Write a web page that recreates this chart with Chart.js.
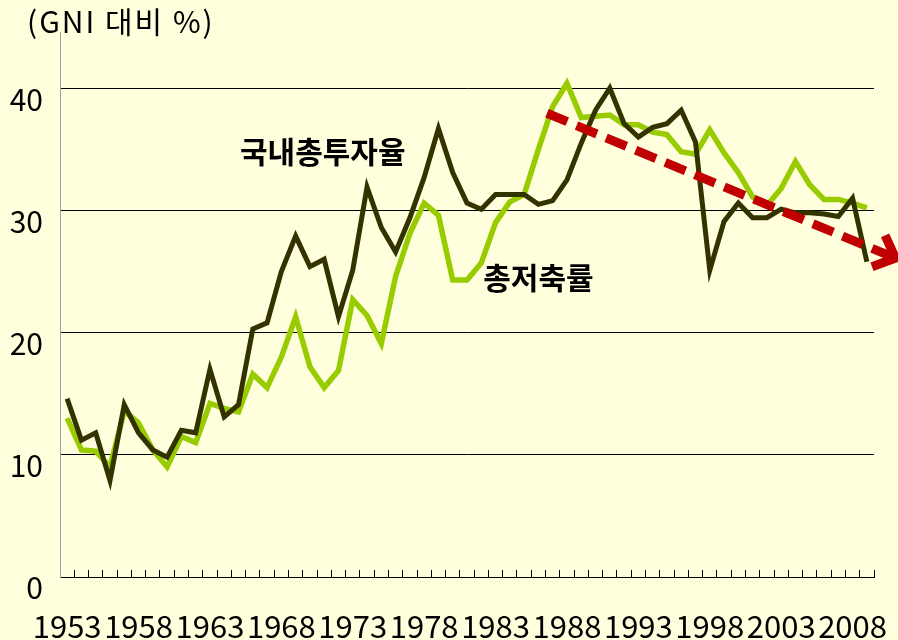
<!DOCTYPE html>
<html>
<head>
<meta charset="utf-8">
<script src="https://cdn.jsdelivr.net/npm/chart.js@4.4.1/dist/chart.umd.min.js"></script>
<style>
html, body { margin: 0; padding: 0; background: #FFFFDD; }
#wrap { width: 898px; height: 640px; }
</style>
</head>
<body>
<div id="wrap"><canvas id="myChart" width="898" height="640"></canvas></div>
<script>
var years = ['1953','1954','1955','1956','1957','1958','1959','1960','1961','1962',
    '1963','1964','1965','1966','1967','1968','1969','1970','1971','1972',
    '1973','1974','1975','1976','1977','1978','1979','1980','1981','1982',
    '1983','1984','1985','1986','1987','1988','1989','1990','1991','1992',
    '1993','1994','1995','1996','1997','1998','1999','2000','2001','2002',
    '2003','2004','2005','2006','2007','2008','2009'];

// 국내총투자율
var investment = [14.6, 11.2, 11.8, 7.9, 14.1, 11.8, 10.4, 9.8, 12.0, 11.8,
    17.0, 13.1, 14.1, 20.3, 20.8, 25.0, 27.9, 25.4, 26.0, 21.3,
    25.1, 31.9, 28.6, 26.6, 29.4, 32.7, 36.7, 33.1, 30.6, 30.1,
    31.3, 31.3, 31.3, 30.5, 30.8, 32.5, 35.5, 38.2, 40.0, 37.1,
    36.0, 36.8, 37.1, 38.2, 35.6, 25.1, 29.1, 30.6, 29.4, 29.4,
    30.1, 29.8, 29.8, 29.7, 29.5, 31.0, 25.8];

// 총저축률
var saving = [13.0, 10.4, 10.3, 9.0, 13.6, 12.6, 10.4, 9.0, 11.5, 11.0,
    14.2, 13.8, 13.5, 16.6, 15.5, 18.0, 21.3, 17.2, 15.5, 16.9,
    22.7, 21.4, 19.1, 24.6, 28.1, 30.6, 29.6, 24.3, 24.3, 25.7,
    29.0, 30.7, 31.3, 35.0, 38.5, 40.4, 37.6, 37.7, 37.8, 37.0,
    37.0, 36.4, 36.2, 34.8, 34.6, 36.6, 34.7, 33.1, 31.1, 30.4,
    31.8, 34.0, 32.1, 30.9, 30.9, 30.6, 30.2];

var yTicks = [0, 10, 20, 30, 40];
// trend arrow: [category index, value]
var trendLine = [[33.6, 37.95], [58.0, 26.1]];

Chart.defaults.font.family = "'Noto Sans CJK KR', 'Noto Sans', sans-serif";
Chart.defaults.color = '#000';

var notes = {
    id: 'notes',
    afterDraw: function(chart) {
        var ctx = chart.ctx;
        var xs = chart.scales.x, ys = chart.scales.y;
        ctx.save();
        ctx.fillStyle = '#000';
        ctx.textBaseline = 'middle';
        ctx.font = "30px 'Noto Sans CJK KR'";
        ctx.letterSpacing = '2px';
        ctx.textAlign = 'left';
        ctx.fillText('(GNI 대비 %)', 27, 22);
        ctx.letterSpacing = '0px';

        ctx.font = "bold 30px 'Noto Sans CJK KR'";
        ctx.textAlign = 'center';
        ctx.fillText('국내총투자율', xs.getPixelForValue(17.9), ys.getPixelForValue(34.8));
        ctx.fillText('총저축률', xs.getPixelForValue(33.0), ys.getPixelForValue(24.5));

        var x1 = xs.getPixelForValue(trendLine[0][0]), y1 = ys.getPixelForValue(trendLine[0][1]);
        var x2 = xs.getPixelForValue(trendLine[1][0]), y2 = ys.getPixelForValue(trendLine[1][1]);
        ctx.strokeStyle = '#C00000';
        ctx.lineWidth = 9;
        ctx.setLineDash([22, 10]);
        ctx.beginPath();
        ctx.moveTo(x1, y1);
        ctx.lineTo(x2 - 6, y2 - 2.5);
        ctx.stroke();

        var ang = Math.atan2(y2 - y1, x2 - x1);
        var len = 25, spread = 0.75;
        ctx.setLineDash([]);
        ctx.lineJoin = 'miter';
        ctx.beginPath();
        ctx.moveTo(x2 - len * Math.cos(ang - spread), y2 - len * Math.sin(ang - spread));
        ctx.lineTo(x2, y2);
        ctx.lineTo(x2 - len * Math.cos(ang + spread), y2 - len * Math.sin(ang + spread));
        ctx.stroke();
        ctx.restore();
    }
};

var ctx = document.getElementById('myChart').getContext('2d');
var chart = new Chart(ctx, {
    type: 'line',
    data: {
        labels: years,
        datasets: [{
            label: '국내총투자율',
            data: investment,
            borderColor: '#333300',
            borderWidth: 5,
            borderJoinStyle: 'miter',
            pointRadius: 0,
            tension: 0
        }, {
            label: '총저축률',
            data: saving,
            borderColor: '#99CC00',
            borderWidth: 5.5,
            borderJoinStyle: 'miter',
            pointRadius: 0,
            tension: 0
        }]
    },
    options: {
        responsive: false,
        animation: false,
        devicePixelRatio: 1,
        layout: { padding: { top: 32, right: 24, left: 0, bottom: 0 } },
        plugins: {
            legend: { display: false },
            tooltip: { enabled: false }
        },
        scales: {
            x: {
                offset: true,
                grid: {
                    offset: true,
                    drawOnChartArea: false,
                    drawTicks: true,
                    tickLength: -7,
                    tickColor: '#000',
                    color: '#000'
                },
                border: { color: '#000', width: 1 },
                ticks: {
                    autoSkip: false,
                    maxRotation: 0,
                    minRotation: 0,
                    padding: 38,
                    font: { size: 31 },
                    callback: function(v, i) {
                        return i % 5 === 0 ? years[i] : '';
                    }
                },
                afterFit: function(s) {
                    s.height = 63;
                    s.paddingLeft = 0;
                    s.paddingRight = 0;
                }
            },
            y: {
                min: 0,
                max: 44.6,
                grid: { color: '#000', lineWidth: 1, drawTicks: false },
                border: { color: '#A0A0A0', width: 1 },
                ticks: {
                    stepSize: 10,
                    padding: 17,
                    labelOffset: 11,
                    font: { size: 30 }
                },
                afterBuildTicks: function(s) {
                    s.ticks = yTicks.map(function(v) { return { value: v }; });
                },
                afterFit: function(s) {
                    s.width = 60;
                    s.paddingTop = 0;
                    s.paddingBottom = 0;
                }
            }
        }
    },
    plugins: [notes]
});
</script>
</body>
</html>
